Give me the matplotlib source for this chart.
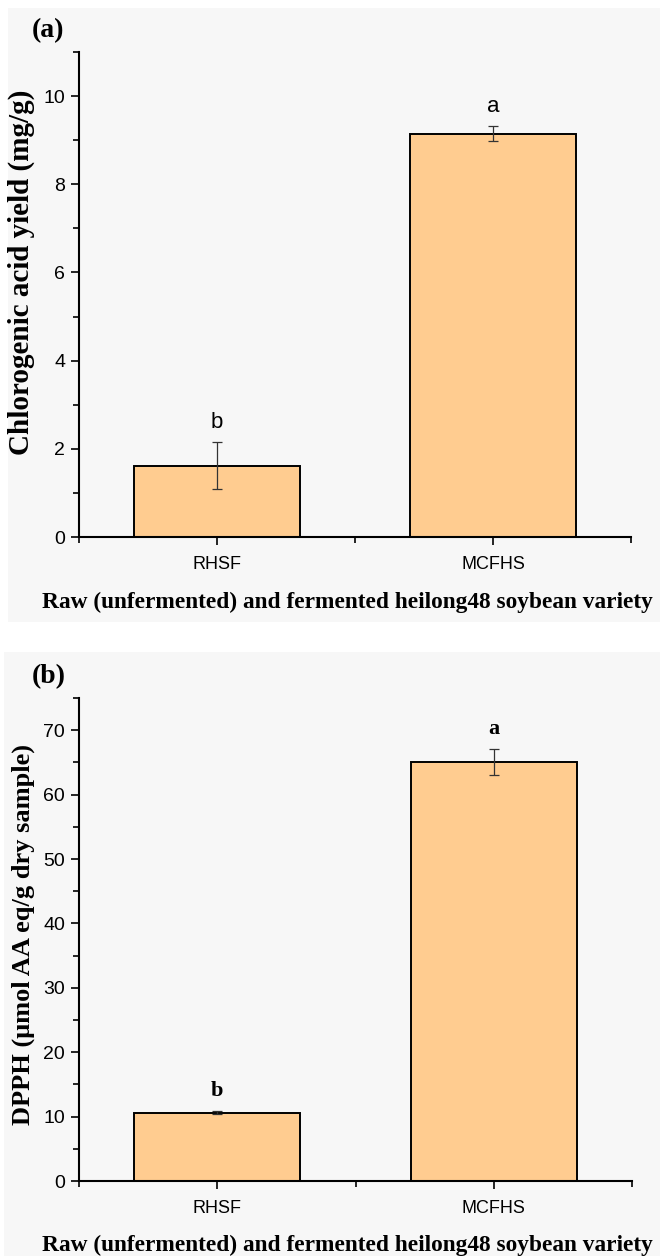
import matplotlib
matplotlib.use("Agg")
import matplotlib.pyplot as plt
from matplotlib.patches import Rectangle
from matplotlib.ticker import MultipleLocator, FixedLocator

# Data
categories = ["RHSF", "MCFHS"]
chlorogenic_mean = [1.62, 9.15]
chlorogenic_err = [0.53, 0.17]
chlorogenic_letters = ["b", "a"]
dpph_mean = [10.6, 65.1]
dpph_err = [0.2, 2.0]
dpph_letters = ["b", "a"]

xlabel = "Raw (unfermented) and fermented heilong48 soybean variety"
bar_color = "#FFCC90"
serif = ["Liberation Serif", "DejaVu Serif"]
sans = ["Liberation Sans", "DejaVu Sans"]

fig = plt.figure(figsize=(6.6, 12.56), dpi=100)
fig.patch.set_facecolor("white")

# faint panel backgrounds
fig.patches.append(Rectangle((8 / 660, 1 - 622 / 1256), 652 / 660, 614 / 1256,
                             transform=fig.transFigure, facecolor="#f7f7f7",
                             edgecolor="none", zorder=-10))
fig.patches.append(Rectangle((4 / 660, 0), 656 / 660, 1 - 652 / 1256,
                             transform=fig.transFigure, facecolor="#f7f7f7",
                             edgecolor="none", zorder=-10))

ax_a = fig.add_axes([79 / 660, 1 - 537 / 1256, 552 / 660, 485 / 1256])
ax_b = fig.add_axes([79 / 660, 1 - 1181 / 1256, 553 / 660, 483 / 1256])


def draw_panel(ax, means, errs, letters, ylim, major, minor, ylabel, tag,
               letter_offset, letter_font, letter_weight, ylabel_size,
               ylabel_y):
    x = [1, 2]
    ax.set_facecolor("none")
    ax.bar(x, means, width=0.6, color=bar_color, edgecolor="black",
           linewidth=1.4, zorder=2)
    ax.errorbar(x, means, yerr=errs, fmt="none", ecolor="#333333",
                elinewidth=0.9, capsize=3.5, capthick=0.9, zorder=3)
    for xi, m, e, lt in zip(x, means, errs, letters):
        ax.text(xi, m + e + letter_offset, lt, ha="center", va="bottom",
                fontsize=16, family=letter_font, fontweight=letter_weight)
    ax.set_xlim(0.5, 2.5)
    ax.set_ylim(*ylim)
    ax.set_xticks(x)
    ax.set_xticklabels(categories, family=sans, fontsize=13)
    ax.xaxis.set_minor_locator(FixedLocator([0.5, 1.5, 2.5]))
    ax.yaxis.set_major_locator(MultipleLocator(major))
    ax.yaxis.set_minor_locator(MultipleLocator(minor))
    for lab in ax.get_yticklabels():
        lab.set_family(sans)
        lab.set_fontsize(14)
    ax.tick_params(axis="both", which="major", direction="out", length=6,
                   width=1.2, pad=4)
    ax.tick_params(axis="x", which="major", pad=8)
    ax.tick_params(axis="both", which="minor", direction="out", length=4,
                   width=1.2)
    for side in ["top", "right"]:
        ax.spines[side].set_visible(False)
    for side in ["left", "bottom"]:
        ax.spines[side].set_linewidth(1.5)
    ax.set_ylabel(ylabel, family=serif, fontweight="bold",
                  fontsize=ylabel_size)
    ax.yaxis.set_label_coords(-0.079, ylabel_y)
    ax.set_xlabel(xlabel, family=serif, fontweight="bold", fontsize=16.8)
    ax.xaxis.set_label_coords(0.486, -0.112)
    ax.text(-0.085, 1.045, tag, transform=ax.transAxes, family=serif,
            fontweight="bold", fontsize=20, ha="left", va="center")


draw_panel(ax_a, chlorogenic_mean, chlorogenic_err, chlorogenic_letters,
           (0, 11), 2, 1, "Chlorogenic acid yield (mg/g)", "(a)",
           0.2, sans, "normal", 21, 0.546)
draw_panel(ax_b, dpph_mean, dpph_err, dpph_letters,
           (0, 75), 10, 5, "DPPH (\u03bcmol AA eq/g dry sample)", "(b)",
           1.6, serif, "bold", 19, 0.51)

fig.savefig("out.png", dpi=100)
